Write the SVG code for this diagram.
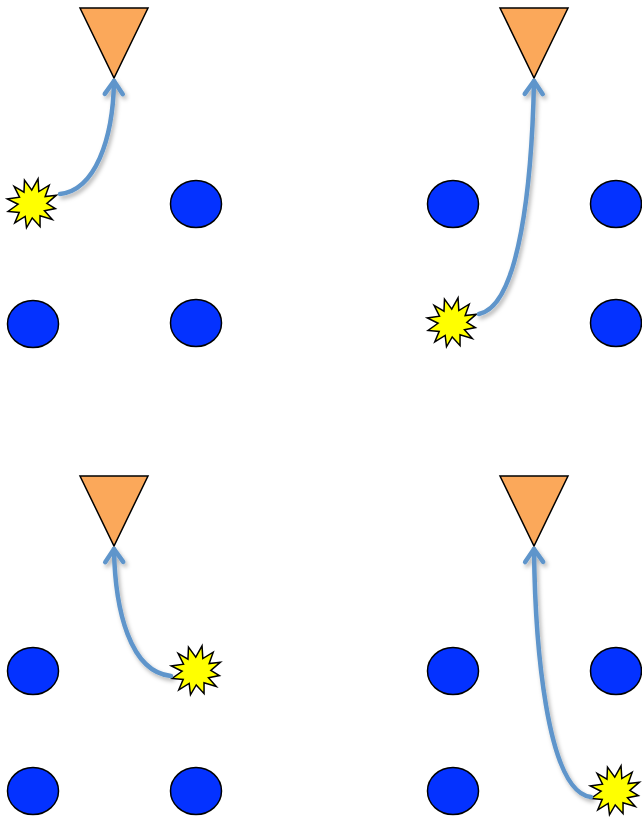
<svg xmlns="http://www.w3.org/2000/svg" xmlns:xlink="http://www.w3.org/1999/xlink" width="642" height="818" viewBox="0 0 642 818">
<style>
.tri{fill:#FBA85A;stroke:#000;stroke-width:1.5;stroke-linejoin:miter}
.dot{fill:#0432FF;stroke:#000;stroke-width:1.5}
.boom{fill:#FFFF00;stroke:#000;stroke-width:1.5;stroke-linejoin:miter}
.arc{fill:none;stroke:#5E95CB;stroke-width:4.5;stroke-linecap:round;filter:url(#sh)}
</style>
<defs>
<filter id="sh" x="-30%" y="-10%" width="160%" height="130%">
<feDropShadow dx="2" dy="3" stdDeviation="2" flood-color="#000" flood-opacity="0.3"/>
</filter>
<marker id="head" markerUnits="userSpaceOnUse" markerWidth="30" markerHeight="30" refX="0" refY="0" viewBox="-15 -15 30 30" orient="auto" overflow="visible">
<path d="M-13,-9 L0,0 L-13,9" fill="none" stroke="#5E95CB" stroke-width="4.5" stroke-linecap="round" stroke-linejoin="round"/>
</marker>
<polygon id="star" class="boom" points="26,1 14,5 20,13 9,11 13,22 3,14 -1,24 -5,13 -14,20 -11,9 -23,11 -15,3 -25,-2 -13,-5 -21,-14 -9,-11 -10,-23 -3,-14 2,-25 5,-13 15,-21 11,-9 23,-11 15,-2"/>
</defs>

<g id="panel-top-left">
<g id="tl-triangle"><polygon class="tri" points="80,8 148,8 114,78"/></g>
<g id="tl-dot-1"><ellipse class="dot" cx="196" cy="204" rx="25.5" ry="23.5"/></g>
<g id="tl-dot-2"><ellipse class="dot" cx="33" cy="324" rx="25.5" ry="23.5"/></g>
<g id="tl-dot-3"><ellipse class="dot" cx="196" cy="323" rx="25.5" ry="23.5"/></g>
<g id="tl-burst"><use xlink:href="#star" transform="translate(32,204) rotate(-22)"/></g>
</g>

<g id="panel-top-right">
<g id="tr-triangle"><polygon class="tri" points="500,8 568,8 534,78"/></g>
<g id="tr-dot-1"><ellipse class="dot" cx="453" cy="204" rx="25.5" ry="23.5"/></g>
<g id="tr-dot-2"><ellipse class="dot" cx="616" cy="204" rx="25.5" ry="23.5"/></g>
<g id="tr-dot-3"><ellipse class="dot" cx="616" cy="323" rx="25.5" ry="23.5"/></g>
<g id="tr-burst"><use xlink:href="#star" transform="translate(452,323) rotate(-22)"/></g>
</g>

<g id="panel-bottom-left">
<g id="bl-triangle"><polygon class="tri" points="80,476 148,476 114,546"/></g>
<g id="bl-dot-1"><ellipse class="dot" cx="33" cy="671" rx="25.5" ry="23.5"/></g>
<g id="bl-dot-2"><ellipse class="dot" cx="33" cy="791" rx="25.5" ry="23.5"/></g>
<g id="bl-dot-3"><ellipse class="dot" cx="196" cy="791" rx="25.5" ry="23.5"/></g>
<g id="bl-burst"><use xlink:href="#star" transform="translate(196,671) rotate(-22)"/></g>
</g>

<g id="panel-bottom-right">
<g id="br-triangle"><polygon class="tri" points="500,476 568,476 534,546"/></g>
<g id="br-dot-1"><ellipse class="dot" cx="453" cy="671" rx="25.5" ry="23.5"/></g>
<g id="br-dot-2"><ellipse class="dot" cx="616" cy="671" rx="25.5" ry="23.5"/></g>
<g id="br-dot-3"><ellipse class="dot" cx="453" cy="791" rx="25.5" ry="23.5"/></g>
<g id="br-burst"><use xlink:href="#star" transform="translate(615,791) rotate(-22)"/></g>
</g>

<g id="connectors">
<path class="arc" marker-end="url(#head)" d="M60,194 C95,190 113,140 114,81"/>
<path class="arc" marker-end="url(#head)" d="M479,314 C520,306 532,180 534,81"/>
<path class="arc" marker-end="url(#head)" d="M171,676 C130,672 115,610 114,549"/>
<path class="arc" marker-end="url(#head)" d="M591,797 C546,792 535,640 534,549"/>
</g>
</svg>
